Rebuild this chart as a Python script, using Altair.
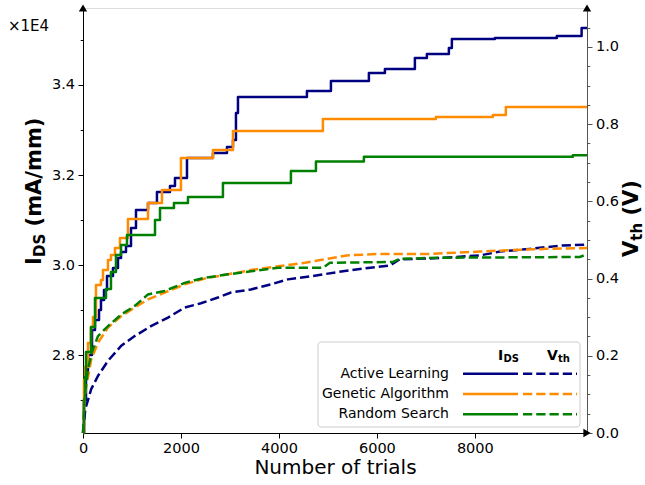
import altair as alt
import pandas as pd

FONT = "DejaVu Sans"
SERIES = ["Active Learning", "Genetic Algorithm", "Random Search"]
COLORS = ["#000080", "#ff8c00", "#008000"]

# Best I_DS found so far (mA/mm), recorded at the trial where it improved
al_trials = [0, 20, 61, 102, 184, 245, 327, 367, 429, 490, 612, 714, 776, 878, 980, 1082,
             1327, 1510, 1776, 1878, 2123, 2653, 2939, 3062, 3123, 3164, 4572, 5062, 5837,
             6164, 6776, 7021, 7470, 7531, 8409, 9674, 10180, 10290]
al_ids = [26267, 27000, 27667, 28000, 28556, 28778, 29000, 29222, 29444, 29756, 29933, 30156,
          30289, 30422, 30822, 31222, 31378, 31622, 31756, 31933, 32378, 32489, 32622, 32778,
          33378, 33733, 33867, 34089, 34267, 34356, 34600, 34689, 34822, 35022, 35044, 35089,
          35267, 35267]

ga_trials = [0, 20, 41, 102, 163, 204, 265, 367, 408, 510, 571, 653, 755, 918, 1327, 1612,
             2000, 2653, 3062, 4898, 7205, 8368, 8633, 10290]
ga_ids = [26267, 27444, 27733, 28267, 28622, 28844, 29556, 29667, 29889, 30111, 30222, 30378,
          30600, 31022, 31378, 31667, 32378, 32556, 32978, 33244, 33289, 33333, 33511, 33511]

rs_trials = [0, 20, 41, 61, 163, 245, 469, 571, 673, 776, 898, 1470, 1572, 1857, 2143, 2857,
             4245, 4756, 5735, 10001, 10290]
rs_ids = [26267, 27000, 27511, 28067, 28622, 29267, 29467, 29844, 30222, 30444, 30667, 31000,
          31267, 31378, 31511, 31822, 32089, 32300, 32407, 32438, 32438]

# Threshold voltage V_th (V) of the corresponding designs
al_vth_trials = [0, 47, 169, 306, 510, 782, 1055, 1388, 1735, 2076, 2408, 2755, 3021, 3429,
                 3837, 4184, 4653, 5204, 5715, 6266, 6470, 7082, 8103, 8511, 9123, 9797, 10290]
al_vth = [0.0, 0.062, 0.114, 0.148, 0.187, 0.226, 0.251, 0.277, 0.299, 0.325, 0.336, 0.351,
          0.364, 0.372, 0.385, 0.398, 0.406, 0.417, 0.426, 0.434, 0.450, 0.452, 0.460, 0.470,
          0.477, 0.486, 0.488]

ga_vth_trials = [0, 31, 67, 169, 306, 510, 782, 1055, 1327, 1667, 2076, 2484, 2959, 3429, 3980,
                 4531, 5382, 6062, 7082, 8103, 8776, 9470, 10290]
ga_vth = [0.0, 0.088, 0.122, 0.191, 0.234, 0.273, 0.303, 0.325, 0.346, 0.364, 0.385, 0.400,
          0.411, 0.422, 0.432, 0.441, 0.460, 0.464, 0.464, 0.470, 0.474, 0.477, 0.479]

rs_vth_trials = [0, 35, 102, 169, 306, 510, 782, 1055, 1327, 1667, 2076, 2484, 2959, 3429, 3980,
                 4898, 5041, 6327, 6470, 7225, 10144, 10290]
rs_vth = [0.0, 0.096, 0.165, 0.204, 0.251, 0.277, 0.307, 0.329, 0.359, 0.368, 0.389, 0.402,
          0.411, 0.419, 0.428, 0.428, 0.441, 0.443, 0.451, 0.454, 0.456, 0.463]

x_ticks = [0, 2000, 4000, 6000, 8000]
ids_ticks = list(range(27000, 35001, 1000))
vth_ticks = [round(i * 0.05, 2) for i in range(0, 22)]


def long_frame(trial_lists, value_lists, name):
    rows = []
    for s, ts, vs in zip(SERIES, trial_lists, value_lists):
        for t, v in zip(ts, vs):
            rows.append({"series": s, "trials": t, name: v})
    return pd.DataFrame(rows)


ids_df = long_frame([al_trials, ga_trials, rs_trials], [al_ids, ga_ids, rs_ids], "ids")
vth_df = long_frame([al_vth_trials, ga_vth_trials, rs_vth_trials], [al_vth, ga_vth, rs_vth], "vth")
series_df = pd.DataFrame({"series": SERIES})
one = pd.DataFrame({"k": [0]})

W, H = 504, 425
LW = 2.5
DASH = [9.25, 4]

color = alt.Color("series:N", scale=alt.Scale(domain=SERIES, range=COLORS), legend=None)

x_axis = alt.Axis(values=x_ticks, format="d", title="Number of trials", grid=False,
                  domainColor="black", tickColor="black", labelColor="black",
                  labelFont=FONT, labelFontSize=14.5, tickSize=5, labelPadding=3,
                  titleFont=FONT, titleFontSize=20, titleFontWeight="normal",
                  titleColor="black", titlePadding=3, labelFlush=False)
x_enc = alt.X("trials:Q", scale=alt.Scale(domain=[0, 10290], nice=False, zero=False), axis=x_axis)

left_axis = alt.Axis(orient="left", values=ids_ticks, title=None, grid=False,
                     labelExpr="datum.value % 2000 == 0 ? format(datum.value / 10000, '.1f') : ''",
                     tickSize={"condition": {"test": "datum.value % 2000 != 0", "value": 2.8}, "value": 5},
                     domainColor="black", tickColor="black", labelColor="black",
                     labelFont=FONT, labelFontSize=14.5, labelPadding=3.5, labelOverlap=False)

minor_test = "abs(datum.value * 5 - round(datum.value * 5)) > 0.001"
right_axis = alt.Axis(orient="right", values=vth_ticks, title=None, grid=False,
                      labelExpr="abs(datum.value * 5 - round(datum.value * 5)) < 0.001 ? format(datum.value, '.1f') : ''",
                      tickSize={"condition": {"test": minor_test, "value": 2.8}, "value": 5},
                      domainColor="#555555", tickColor="#555555", labelColor="black",
                      labelFont=FONT, labelFontSize=14.5, labelPadding=3.5, labelOverlap=False)

solid = alt.Chart(ids_df).mark_line(
    interpolate="step-after", strokeWidth=LW, strokeJoin="round"
).encode(
    x=x_enc,
    y=alt.Y("ids:Q", scale=alt.Scale(domain=[26267, 35711], nice=False, zero=False), axis=left_axis),
    color=color,
)

dashed = alt.Chart(vth_df).mark_line(strokeWidth=LW, strokeDash=DASH).encode(
    x=x_enc,
    y=alt.Y("vth:Q", scale=alt.Scale(domain=[0, 1.101], nice=False, zero=False), axis=right_axis),
    color=color,
)

# legend drawn inside the plot area
legend_y = alt.Y("series:N", scale=alt.Scale(type="point", domain=SERIES, range=[365.7, 406.3], padding=0), axis=None)
legend_box = alt.Chart(one).mark_rect(
    fill="white", fillOpacity=0.8, stroke="#cccccc", strokeWidth=1, cornerRadius=3
).encode(x=alt.value(235), x2=alt.value(497), y=alt.value(334), y2=alt.value(419))
legend_solid = alt.Chart(series_df).mark_rule(strokeWidth=LW).encode(
    x=alt.value(380), x2=alt.value(435), y=legend_y, color=color)
legend_dashed = alt.Chart(series_df).mark_rule(strokeWidth=LW, strokeDash=DASH).encode(
    x=alt.value(440), x2=alt.value(494), y=legend_y, color=color)
legend_text = alt.Chart(series_df).mark_text(
    align="right", baseline="middle", font=FONT, fontSize=14, color="black"
).encode(x=alt.value(366), y=legend_y, text="series:N")


def label(text, x, y, size, weight="normal", angle=0, align="left", baseline="alphabetic"):
    return alt.Chart(one).mark_text(
        text=text, font=FONT, fontSize=size, fontWeight=weight, angle=angle,
        align=align, baseline=baseline, color="black"
    ).encode(x=alt.value(x), y=alt.value(y))


texts = [
    label("×1E4", -75, 17.5, 15, baseline="middle"),
    # legend column headers
    label("I", 415, 352, 14, "bold"),
    label("DS", 420.5, 353.5, 10, "bold"),
    label("V", 464, 352, 14, "bold"),
    label("th", 475, 353.5, 10, "bold"),
    # left axis title: I_DS (mA/mm)
    label("I", -42, 257, 21, "bold", angle=270),
    label("DS", -38, 249, 15, "bold", angle=270),
    label("(mA/mm)", -42, 218.4, 21, "bold", angle=270),
    # right axis title: V_th (V)
    label("V", 555, 249, 21, "bold", angle=270),
    label("th", 558.5, 232.7, 15, "bold", angle=270),
    label("(V)", 555, 207.5, 21, "bold", angle=270),
]


def arrow(shape, x, y):
    return alt.Chart(one).mark_point(shape=shape, filled=True, size=70, color="black", opacity=1).encode(
        x=alt.value(x), y=alt.value(y))


arrows = [arrow("triangle-up", 0, 0), arrow("triangle-up", W, 0), arrow("triangle-right", W, H)]

chart = alt.layer(
    solid, dashed, legend_box, legend_solid, legend_dashed, legend_text, *texts, *arrows
).resolve_scale(
    y="independent"
).properties(
    width=W, height=H,
    autosize=alt.AutoSizeParams(type="none"),
    padding={"left": 83, "top": 8, "right": 58, "bottom": 52},
    background="white",
).configure_view(stroke=None).configure(font=FONT)

chart.save("out.html", embed_options={"renderer": "svg", "actions": False})
